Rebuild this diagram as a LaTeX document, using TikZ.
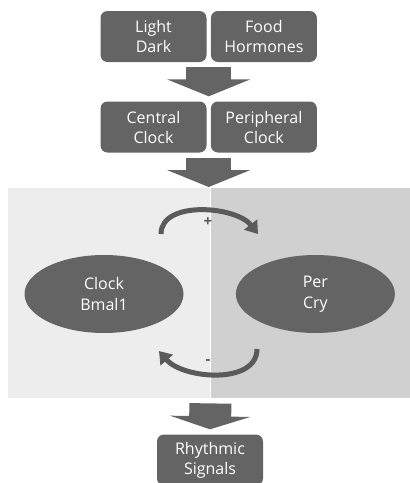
\documentclass[tikz,border=0pt]{standalone}
\usepackage{fontspec}
\setmainfont{Open Sans}
\usetikzlibrary{arrows.meta,calc,positioning,shapes}

\definecolor{boxgray}{HTML}{646464}
\definecolor{arcgray}{HTML}{5A5A5A}
\definecolor{panelleft}{HTML}{EDEDED}
\definecolor{panelright}{HTML}{D0D0D0}

\tikzset{
	box/.style={rectangle, rounded corners=7pt, fill=boxgray, text=white, minimum width=106pt, minimum height=51pt, inner sep=0pt, align=center, font=\fontsize{16}{20}\selectfont},
	gene/.style={ellipse, fill=boxgray, text=white, minimum width=159pt, minimum height=78pt, inner sep=0pt, align=center, font=\fontsize{16}{21}\selectfont},
	panel/.style={rectangle, inner sep=0pt, minimum height=210pt, anchor=north west},
	blockarrow/.style={draw=boxgray, line width=45pt, -{Triangle[length=17pt 0 0, width=83pt 0 0]}},
	feedback/.style={draw=arcgray, line width=5pt, -{Triangle[length=12pt 0 0, width=16pt 0 0]}},
	sign/.style={text=arcgray, inner sep=0pt, font=\fontsize{15}{15}\selectfont\bfseries}
}

\begin{document}
\begin{tikzpicture}[x=1pt, y=-1pt]
	\useasboundingbox (0,0) rectangle (410,483);
	%% inputs and clocks
	\node[box] (light) at (153.5,36.5) {Light\\Dark};
	\node[box, right=4pt of light] (food) {Food\\Hormones};
	\node[box] (central) at (153.5,127) {Central\\Clock};
	\node[box, right=4pt of central] (peripheral) {Peripheral\\Clock};
	\coordinate (row1-bot) at ($(light.south east)!.5!(food.south west)$);
	\coordinate (row2-top) at ($(central.north east)!.5!(peripheral.north west)$);
	\coordinate (row2-bot) at ($(central.south east)!.5!(peripheral.south west)$);
	\draw[blockarrow] ([yshift=-5pt]row1-bot) -- ([yshift=5pt]row2-top);
	%% feedback loop
	\node[panel, fill=panelleft, minimum width=202pt] (bgl) at (8,188) {};
	\node[panel, fill=panelright, minimum width=200pt] (bgr) at (bgl.north east) {};
	\coordinate (bg-top) at ([yshift=1pt]bgl.north);
	\draw[blockarrow] ([yshift=-5pt]row2-bot) -- (row2-bot |- bg-top);
	\node[gene] (clock) at (104,294) {Clock\\Bmal1};
	\node[gene, right=52pt of clock] (percry) {Per\\Cry};
	\coordinate (plus-a) at (161,234);
	\coordinate (plus-b) at (258,234);
	\coordinate (minus-a) at (257,349);
	\coordinate (minus-b) at (159,351);
	\draw[feedback] (plus-a) .. controls +(0,-34) and +(-22,-28) .. (plus-b);
	\draw[feedback] (minus-a) .. controls +(0,36) and +(24,28) .. (minus-b);
	\node[sign] (plus) at (208,222) {+};
	\node[sign] (minus) at (208,362) {-};
	%% output
	\node[box] (rhythmic) at (210,460) {Rhythmic\\Signals};
	\draw[blockarrow, -{Triangle[length=13pt 0 0, width=80pt 0 0]}, line width=42pt] ([yshift=-5pt]bgl.south east) -- ([yshift=5pt]rhythmic.north);
\end{tikzpicture}
\end{document}
